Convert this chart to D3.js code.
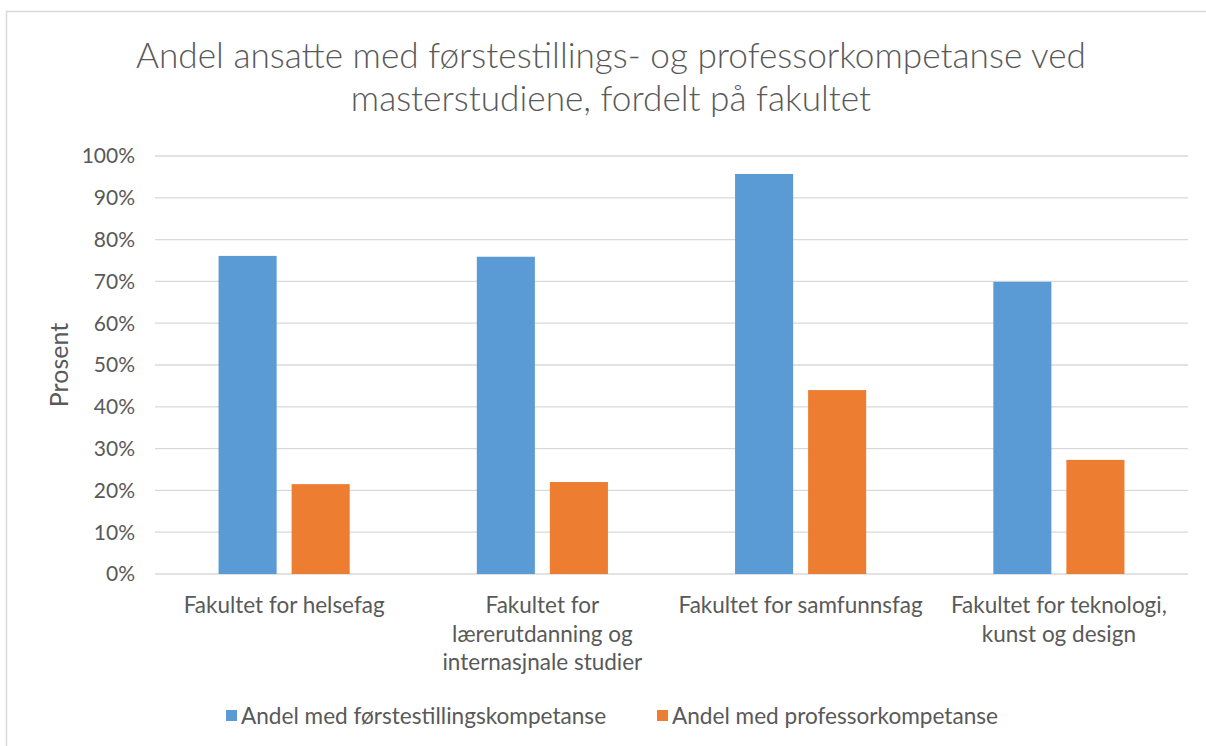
<!DOCTYPE html>
<meta charset="utf-8">
<script src="https://d3js.org/d3.v7.min.js"></script>
<style>
    body { margin: 0; background: #fff; }
    svg text { font-family: Lato, 'Open Sans', sans-serif; fill: #595959; }
</style>
<div id="chart"></div>
<script>
    // data
    const categories = [
        ["Fakultet for helsefag"],
        ["Fakultet for", "lærerutdanning og", "internasjnale studier"],
        ["Fakultet for samfunnsfag"],
        ["Fakultet for teknologi,", "kunst og design"]
    ];
    const seriesNames = ["Andel med førstestillingskompetanse", "Andel med professorkompetanse"];
    const forstestilling = [76.1, 75.9, 95.7, 69.9];
    const professor = [21.5, 22.0, 44.0, 27.3];
    const yTicks = [0, 10, 20, 30, 40, 50, 60, 70, 80, 90, 100];

    const colors = ["#5b9bd5", "#ed7d31"];

    const W = 1206, H = 746;
    const margin = {top: 156, right: 18, bottom: 172, left: 155};
    const width = W - margin.left - margin.right,
        height = H - margin.top - margin.bottom;

    const svg = d3.select("#chart").append("svg")
        .attr("width", W)
        .attr("height", H);

    // chart border
    svg.append("rect")
        .attr("x", 6.5).attr("y", 11.5)
        .attr("width", W + 10).attr("height", H + 10)
        .attr("fill", "none")
        .attr("stroke", "#d9d9d9")
        .attr("stroke-width", 1.5);

    // title
    svg.append("text")
        .attr("text-anchor", "middle")
        .style("font-size", "35.2px")
        .style("font-weight", 300)
        .selectAll("tspan")
        .data(["Andel ansatte med førstestillings- og professorkompetanse ved", "masterstudiene, fordelt på fakultet"])
        .enter().append("tspan")
        .attr("x", 611)
        .attr("y", (d, i) => 68 + i * 43)
        .text(d => d);

    const g = svg.append("g")
        .attr("transform", "translate(" + margin.left + "," + margin.top + ")");

    const x0 = d3.scaleBand()
        .domain(d3.range(categories.length))
        .range([0, width]);

    const x1 = d3.scaleBand()
        .domain([0, 1])
        .range([0, x0.bandwidth()])
        .paddingInner(0.205)
        .paddingOuter(0.87);

    const y = d3.scaleLinear()
        .domain([0, 100])
        .range([height, 0]);

    // gridlines
    g.selectAll(".grid")
        .data(yTicks)
        .enter().append("line")
        .attr("x1", 0).attr("x2", width)
        .attr("y1", d => y(d)).attr("y2", d => y(d))
        .attr("stroke", "#d9d9d9")
        .attr("stroke-width", 1.3);

    // y tick labels
    g.selectAll(".ytick")
        .data(yTicks)
        .enter().append("text")
        .attr("x", -20)
        .attr("y", d => y(d))
        .attr("dy", "0.35em")
        .attr("text-anchor", "end")
        .style("font-size", "21px")
        .text(d => d + "%");

    // y axis title
    g.append("text")
        .attr("transform", "translate(-87," + (height / 2) + ") rotate(-90)")
        .attr("text-anchor", "middle")
        .style("font-size", "25px")
        .text("Prosent");

    const series = [forstestilling, professor];

    series.forEach(function (vals, s) {
        g.selectAll(".bar" + s)
            .data(vals)
            .enter().append("rect")
            .attr("x", (d, i) => x0(i) + x1(s))
            .attr("y", d => y(d))
            .attr("width", x1.bandwidth())
            .attr("height", d => height - y(d))
            .attr("fill", colors[s]);
    });

    // category labels
    categories.forEach(function (lines, i) {
        g.append("text")
            .attr("text-anchor", "middle")
            .style("font-size", "22.5px")
            .selectAll("tspan")
            .data(lines)
            .enter().append("tspan")
            .attr("x", x0(i) + x0.bandwidth() / 2)
            .attr("y", (d, j) => height + 39 + j * 28.5)
            .text(d => d);
    });

    // legend
    const legendX = [226, 657];
    const legend = svg.selectAll(".legend")
        .data(seriesNames)
        .enter().append("g")
        .attr("transform", (d, i) => "translate(" + legendX[i] + ",716)");

    legend.append("rect")
        .attr("x", 0).attr("y", -6)
        .attr("width", 11).attr("height", 11)
        .attr("fill", (d, i) => colors[i]);

    legend.append("text")
        .attr("x", 15)
        .attr("dy", "0.35em")
        .style("font-size", "22.6px")
        .text(d => d);
</script>
